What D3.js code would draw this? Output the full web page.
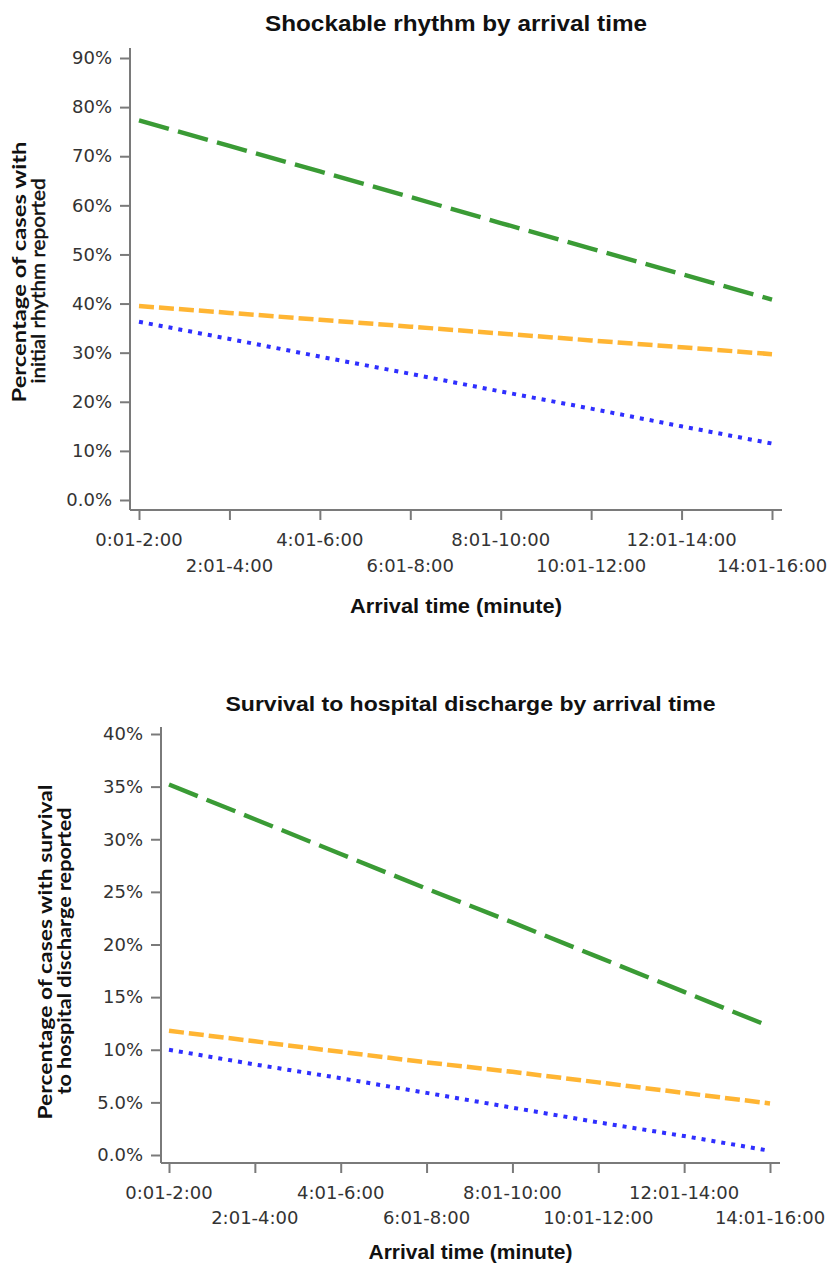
<!DOCTYPE html>
<html>
<head>
<meta charset="utf-8">
<script src="https://cdn.jsdelivr.net/npm/d3@7"></script>
<style>
  html, body { margin: 0; padding: 0; background: #fff; }
  svg { display: block; }
</style>
</head>
<body>
<svg id="chart" width="834" height="1265"></svg>
<script>
// Arrival-time bins (minutes) shared by both panels
const arrivalBins = ["0:01-2:00", "2:01-4:00", "4:01-6:00", "6:01-8:00",
                     "8:01-10:00", "10:01-12:00", "12:01-14:00", "14:01-16:00"];

// Panel 1: shockable initial rhythm (%)
const shockGreen  = [77.3, 72.1, 66.9, 61.7, 56.4, 51.2, 46.0, 40.8];
const shockOrange = [39.5, 38.1, 36.7, 35.3, 33.9, 32.5, 31.1, 29.7];
const shockBlue   = [36.3, 32.8, 29.2, 25.7, 22.1, 18.6, 15.0, 11.5];
const shockTicks  = [0, 10, 20, 30, 40, 50, 60, 70, 80, 90];

// Panel 2: survival to hospital discharge (%)
const survGreen  = [35.2, 31.9, 28.6, 25.3, 22.1, 18.8, 15.5, 12.2];
const survOrange = [11.8, 10.8, 9.8, 8.8, 7.9, 6.9, 5.9, 4.9];
const survBlue   = [10.0, 8.6, 7.3, 5.9, 4.5, 3.1, 1.8, 0.4];
const survTicks  = [0, 5, 10, 15, 20, 25, 30, 35, 40];

const svg = d3.select("#chart");
const axisColor = "#7a7a7a";
const tickFont = "DejaVu Sans, sans-serif";
const headFont = "Liberation Sans, Arial, sans-serif";
const labelFont = "Lato, sans-serif";

const lineStyles = {
  green:  { color: "#3a9b35", dash: "31,9.5", width: 4.4 },
  orange: { color: "#ffb533", dash: "15,5",   width: 4.5 },
  blue:   { color: "#2f2fff", dash: "4,6",    width: 4 }
};

// single-digit percentages keep one decimal (0.0%, 5.0%)
function percentFmt(v) {
  return v < 10 ? v.toFixed(1) + "%" : v + "%";
}

function drawPanel(cfg) {
  const g = svg.append("g");
  const x = d3.scalePoint().domain(arrivalBins).range([cfg.xFirst, cfg.xLast]);
  const y = d3.scaleLinear().domain([0, cfg.yMax]).range([cfg.yZero, cfg.yTop]);
  const midX = (cfg.axisLeft + cfg.axisRight) / 2;

  // Title
  g.append("text")
    .attr("x", midX)
    .attr("y", cfg.titleY)
    .attr("text-anchor", "middle")
    .attr("font-family", headFont)
    .attr("font-weight", "bold")
    .attr("font-size", cfg.titleSize)
    .attr("textLength", cfg.titleLen)
    .attr("lengthAdjust", "spacingAndGlyphs")
    .attr("fill", "#111")
    .text(cfg.title);

  // Y axis
  const yAxis = d3.axisLeft(y).tickValues(cfg.ticks).tickFormat(percentFmt)
    .tickSize(10).tickPadding(8).tickSizeOuter(0);
  const yg = g.append("g").attr("transform", `translate(${cfg.axisLeft},0)`).call(yAxis);
  yg.select(".domain").remove();
  yg.append("line")
    .attr("x1", 0).attr("x2", 0)
    .attr("y1", cfg.axisTop).attr("y2", cfg.axisBottom)
    .attr("stroke", axisColor).attr("stroke-width", 2);
  yg.selectAll(".tick line").attr("stroke", axisColor).attr("stroke-width", 2);
  yg.selectAll(".tick text")
    .attr("font-family", tickFont).attr("font-size", 18).attr("fill", "#333");

  // X axis
  const xAxis = d3.axisBottom(x).tickSize(10).tickSizeOuter(0).tickFormat("");
  const xg = g.append("g").attr("transform", `translate(0,${cfg.axisBottom})`).call(xAxis);
  xg.select(".domain").remove();
  xg.append("line")
    .attr("x1", cfg.axisLeft).attr("x2", cfg.axisRight)
    .attr("y1", 0).attr("y2", 0)
    .attr("stroke", axisColor).attr("stroke-width", 2);
  xg.selectAll(".tick line").attr("stroke", axisColor).attr("stroke-width", 2);

  // Staggered category labels
  g.append("g").selectAll("text").data(arrivalBins).join("text")
    .attr("x", d => x(d))
    .attr("y", (d, i) => i % 2 === 0 ? cfg.labelRow1 : cfg.labelRow2)
    .attr("text-anchor", "middle")
    .attr("dominant-baseline", "middle")
    .attr("font-family", tickFont).attr("font-size", 18).attr("fill", "#333")
    .text(d => d);

  // X axis title
  g.append("text")
    .attr("x", midX)
    .attr("y", cfg.xTitleY)
    .attr("text-anchor", "middle")
    .attr("font-family", headFont)
    .attr("font-weight", "bold")
    .attr("font-size", 20)
    .attr("textLength", cfg.xTitleLen)
    .attr("lengthAdjust", "spacingAndGlyphs")
    .attr("fill", "#111")
    .text("Arrival time (minute)");

  // Y axis title (two lines, rotated)
  cfg.yTitle.forEach((t, i) => {
    const normal = cfg.yTitleWeights[i] === "normal";
    g.append("text")
      .attr("transform", `translate(${cfg.yTitleX + i * cfg.yTitleGap},${cfg.yTitleY[i]}) rotate(-90)`)
      .attr("text-anchor", "middle")
      .attr("font-family", labelFont)
      .attr("font-size", cfg.yTitleSizes[i])
      .attr("font-weight", cfg.yTitleWeights[i])
      .attr("textLength", cfg.yTitleLens[i])
      .attr("lengthAdjust", "spacingAndGlyphs")
      .attr("fill", "#111")
      .attr("stroke", normal ? "#111" : null)
      .attr("stroke-width", normal ? 0.45 : null)
      .text(t);
  });

  // Series lines
  const line = d3.line().x((d, i) => x(arrivalBins[i])).y(d => y(d));
  cfg.series.forEach(s => {
    const st = lineStyles[s.style];
    g.append("path")
      .datum(s.values)
      .attr("d", line)
      .attr("fill", "none")
      .attr("stroke", st.color)
      .attr("stroke-width", st.width)
      .attr("stroke-dasharray", st.dash);
  });
}

drawPanel({
  title: "Shockable rhythm by arrival time",
  titleY: 31, titleSize: 22, titleLen: 382,
  axisLeft: 130, axisRight: 782, axisTop: 48, axisBottom: 510,
  xFirst: 139, xLast: 772,
  yZero: 500, yTop: 58, yMax: 90, ticks: shockTicks,
  labelRow1: 541, labelRow2: 567, xTitleY: 613, xTitleLen: 212,
  yTitle: ["Percentage  of cases with", "initial rhythm reported"],
  yTitleX: 26, yTitleGap: 19, yTitleY: [272, 281], yTitleSizes: [19, 19],
  yTitleWeights: ["bold", "normal"], yTitleLens: [261, 205],
  series: [
    { style: "green",  values: shockGreen },
    { style: "orange", values: shockOrange },
    { style: "blue",   values: shockBlue }
  ]
});

drawPanel({
  title: "Survival to hospital discharge by arrival time",
  titleY: 711, titleSize: 21, titleLen: 490,
  axisLeft: 161, axisRight: 780, axisTop: 727, axisBottom: 1163,
  xFirst: 169, xLast: 770,
  yZero: 1155, yTop: 734, yMax: 40, ticks: survTicks,
  labelRow1: 1194, labelRow2: 1219, xTitleY: 1259, xTitleLen: 204,
  yTitle: ["Percentage  of cases with survival", "to hospital discharge reported"],
  yTitleX: 52, yTitleGap: 19, yTitleY: [952, 951], yTitleSizes: [19, 19],
  yTitleWeights: ["bold", "bold"], yTitleLens: [335, 287],
  series: [
    { style: "green",  values: survGreen },
    { style: "orange", values: survOrange },
    { style: "blue",   values: survBlue }
  ]
});
</script>
</body>
</html>
